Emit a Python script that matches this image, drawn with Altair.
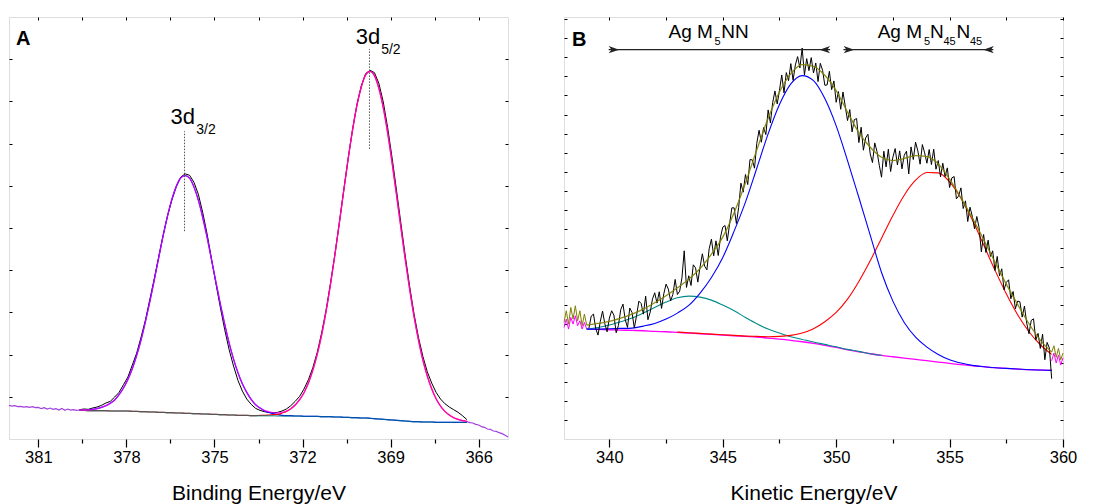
import altair as alt
import numpy as np
import pandas as pd

FONT = "Liberation Sans"

# ---------------- Panel A : Ag 3d (binding energy) ----------------
a_x = np.round(np.arange(379.6, 366.35, -0.15), 2)
a_bg = [86, 86, 85, 85, 85, 85, 85, 84, 84, 84, 84, 84, 83, 83, 82, 82, 81, 81, 80, 80,
        79, 79, 78, 78, 77, 77, 76, 76, 75, 75, 74, 74, 73, 73, 72, 72, 71, 71, 71, 70,
        70, 70, 70, 70, 70, 69, 69, 69, 69, 69, 69, 68, 68, 68, 68, 67, 67, 67, 66, 66,
        65, 65, 64, 64, 63, 63, 62, 61, 60, 59, 58, 57, 56, 55, 54, 53, 52, 52, 51, 51,
        51, 50, 50, 50, 50, 50, 50, 50, 50]
a_peak32 = [87, 87, 87, 89, 91, 95, 100, 107, 117, 133, 153, 179, 211, 251, 298, 353, 413, 478, 544, 610,
            669, 720, 759, 784, 791, 783, 757, 717, 665, 605, 538, 471, 405, 344, 288, 240, 199, 166, 140, 119,
            103, 93, 85, 80, 76, 74, 71, 70, 70, 69, 69, 68, 68, 68, 68, 67, 67, 67, 66, 66,
            65, 65, 64, 64, 63, 63, 62, 61, 60, 59, 58, 57, 56, 55, 54, 53, 52, 52, 51, 51,
            51, 50, 50, 50, 50, 50, 50, 50, 50]
a_peak52 = [86, 86, 85, 85, 85, 85, 85, 84, 84, 84, 84, 84, 83, 83, 82, 82, 81, 81, 80, 80,
            79, 79, 78, 78, 77, 77, 76, 76, 75, 75, 74, 74, 73, 73, 72, 72, 71, 71, 71, 70,
            70, 71, 71, 72, 73, 74, 78, 83, 91, 102, 118, 139, 168, 206, 254, 312, 382, 463, 551, 646,
            743, 838, 925, 1000, 1056, 1093, 1104, 1091, 1053, 995, 919, 830, 734, 635, 539, 449, 367, 297, 237, 189,
            151, 121, 99, 83, 72, 64, 59, 55, 53]
a_fit = [87, 87, 87, 89, 91, 95, 100, 107, 117, 133, 153, 179, 211, 251, 298, 353, 413, 478, 544, 610,
         669, 720, 759, 784, 791, 783, 757, 717, 665, 605, 538, 471, 405, 344, 288, 240, 199, 166, 140, 119,
         103, 93, 86, 82, 79, 78, 80, 84, 91, 102, 118, 139, 168, 206, 254, 312, 382, 463, 551, 646,
         743, 838, 925, 1000, 1056, 1093, 1104, 1091, 1053, 995, 919, 830, 734, 635, 539, 449, 367, 297, 237, 189,
         151, 121, 99, 83, 72, 64, 59, 55, 53]
a_data = [88, 90, 89, 93, 96, 101, 108, 113, 126, 140, 163, 186, 222, 258, 306, 358, 420, 482, 547, 611,
          670, 718, 758, 786, 796, 792, 771, 735, 680, 615, 540, 466, 395, 328, 268, 219, 176, 144, 120, 104,
          92, 86, 82, 80, 79, 80, 84, 90, 100, 113, 128, 150, 178, 214, 260, 318, 386, 466, 553, 647,
          744, 840, 927, 1003, 1060, 1097, 1107, 1100, 1068, 1012, 935, 845, 748, 648, 550, 458, 375, 305, 248, 202,
          168, 140, 120, 106, 96, 88, 80, 70, 58]
a_left_x = np.round(np.arange(382.0, 379.55, -0.1), 2)
a_left_y = [101, 99, 100, 97, 98, 96, 97, 95, 97, 94, 95, 91, 94, 90, 93, 89, 91, 87, 92, 86, 90, 87, 88, 86, 87]
a_right_x = np.round(np.arange(366.4, 364.95, -0.1), 2)
a_right_y = [52, 49, 48, 44, 42, 37, 35, 30, 29, 24, 23, 19, 16, 11, 6]

a_xticks = [381, 379.5, 378, 376.5, 375, 373.5, 372, 370.5, 369, 367.5, 366]
a_yticks = [126.7 * i for i in range(1, 10)]
a_peak_pos = [376.02, 369.72]
a_mark_lo = [624, 871]
a_mark_hi = [924, 1171]
a_text = ["3d", "3/2", "3d", "5/2"]
a_text_x = [376.50, 375.62, 370.19, 369.32]
a_text_y = [946, 916, 1186, 1156]
a_text_fs = [22, 14, 22, 14]

# ---------------- Panel B : Ag MNN Auger (kinetic energy) ----------------
b_x = np.round(np.arange(339.0, 359.75, 0.5), 2)
b_bg = [330, 329, 328, 327, 326, 325, 323, 322, 320, 318, 316, 314, 312, 310, 308, 306, 303, 300, 296, 292,
        287, 281, 275, 268, 262, 256, 251, 247, 243, 239, 235, 231, 227, 223, 220, 217, 214, 212, 210, 208,
        207, 206]
b_blue = [330, 330, 331, 332, 333, 339, 347, 360, 378, 401, 438, 485, 545, 624, 711, 813, 916, 1004, 1066, 1091,
          1076, 1022, 940, 836, 725, 612, 500, 414, 350, 306, 276, 254, 238, 228, 221, 217, 214, 212, 210, 208,
          207, 206]
b_teal = [330, 335, 342, 352, 363, 378, 395, 411, 424, 429, 426, 417, 402, 385, 365, 346, 330, 318, 307, 299,
          291, 284, 277, 269, 263, 256, 251]
b_red = [321, 319, 317, 315, 313, 311, 309, 308, 307, 308, 311, 318, 331, 352, 380, 420, 473, 535, 603, 671,
         732, 777, 800, 799, 772, 723, 658, 583, 507, 436, 373, 322, 283, 254]
b_fit = [342, 347, 353, 363, 375, 390, 409, 430, 454, 480, 512, 555, 606, 679, 769, 868, 963, 1042, 1097, 1124,
         1119, 1092, 1046, 981, 920, 876, 846, 836, 842, 851, 848, 826, 780, 724, 664, 599, 531, 465, 404, 346,
         297, 261]
b_data_x = np.round(np.arange(339.1, 359.55, 0.1), 2)
b_data = [333, 369, 375, 331, 312, 353, 384, 346, 322, 363,
          385, 372, 319, 341, 388, 405, 358, 335, 393, 380,
          333, 371, 414, 407, 375, 429, 358, 381, 420, 439,
          408, 442, 392, 436, 465, 450, 415, 434, 479, 434,
          444, 484, 565, 455, 490, 461, 523, 514, 471, 517,
          556, 519, 508, 571, 600, 550, 595, 551, 606, 636,
          641, 595, 645, 694, 694, 647, 695, 768, 741, 794,
          764, 839, 838, 813, 888, 927, 891, 935, 914, 988,
          949, 1010, 1045, 1006, 1047, 1093, 1039, 1100, 1076, 1127,
          1077, 1123, 1148, 1114, 1174, 1093, 1142, 1106, 1145, 1099,
          1129, 1073, 1128, 1107, 1062, 1063, 1104, 1049, 1075, 1011,
          1043, 990, 1042, 999, 956, 989, 922, 959, 962, 890,
          936, 867, 904, 915, 856, 830, 889, 863, 822, 786,
          864, 817, 870, 803, 846, 872, 823, 865, 811, 852,
          864, 796, 877, 839, 891, 865, 825, 884, 859, 828,
          869, 824, 870, 810, 836, 787, 828, 788, 814, 755,
          784, 788, 721, 730, 754, 692, 715, 653, 696, 669,
          631, 668, 635, 562, 614, 560, 597, 548, 565, 506,
          548, 490, 511, 448, 470, 478, 421, 443, 391, 414,
          412, 366, 399, 348, 316, 356, 361, 297, 317, 272,
          315, 238, 290, 273, 181]
b_edge_l_x = np.round(np.arange(338.0, 339.05, 0.1), 2)
b_edge_l_olive = [350, 385, 345, 395, 360, 400, 355, 385, 340, 375, 342]
b_edge_l_mag = [335, 360, 330, 365, 345, 370, 340, 355, 330, 350, 330]
b_edge_r_x = np.round(np.arange(359.5, 360.05, 0.1), 2)
b_edge_r_olive = [261, 280, 245, 272, 238, 258]
b_edge_r_mag = [235, 258, 228, 252, 222, 244]

b_xticks = [340, 342.5, 345, 347.5, 350, 352.5, 355, 357.5, 360]
b_yticks = [57.3 * i for i in range(1, 23)]
b_arrow_x1 = [339.97, 350.32]
b_arrow_x2 = [349.73, 356.93]
b_arrow_y = [1169, 1169]
b_head_r = [340.2, 350.56]   # heads pointing right
b_head_l = [349.5, 356.72]   # heads pointing left
b_text = ["Ag M", "5", "NN", "Ag M", "5", "N", "45", "N", "45"]
b_text_x = [342.61, 344.64, 344.93, 351.83, 353.87, 354.14, 354.73, 355.31, 355.90]
b_text_y = [1203, 1182, 1203, 1203, 1182, 1203, 1182, 1203, 1182]
b_text_fs = [19, 11, 19, 19, 11, 19, 11, 19, 11]

for arr, ref in [(a_bg, a_x), (a_peak32, a_x), (a_peak52, a_x), (a_fit, a_x), (a_data, a_x),
                 (a_left_y, a_left_x), (a_right_y, a_right_x), (b_bg, b_x), (b_blue, b_x), (b_fit, b_x),
                 (b_teal, b_x[:27]), (b_red, b_x[8:]), (b_data, b_data_x),
                 (b_edge_l_olive, b_edge_l_x), (b_edge_l_mag, b_edge_l_x),
                 (b_edge_r_olive, b_edge_r_x), (b_edge_r_mag, b_edge_r_x)]:
    assert len(arr) == len(ref), (len(arr), len(ref))

W, H = 499, 422


def df(x, y):
    return pd.DataFrame({"x": list(x), "y": list(y)})


def make_panel(xs, ys, xticks, mod, yticks, title, series, extras):
    test = f"abs(datum.value % {mod}) < 0.01"
    bottom = alt.Axis(orient="bottom", values=xticks, domain=False, grid=False,
                      labelExpr=f"{test} ? datum.label : ''",
                      tickSize={"condition": {"test": test, "value": 8}, "value": 4},
                      tickColor="black", tickWidth=1.2, labelFontSize=16.5, labelFont=FONT,
                      labelColor="black", labelPadding=2, labelOverlap=False, labelFlush=False,
                      title=title, titleFont=FONT, titleFontSize=21, titleFontWeight="normal",
                      titleColor="black", titlePadding=17)
    common = dict(labels=False, domain=False, grid=False, tickSize=3, offset=-3, tickColor="black",
                  tickWidth=1, title=None, labelPadding=0, minExtent=0, maxExtent=0)
    left = alt.Axis(orient="left", values=yticks, **common)
    top = alt.Axis(orient="top", values=xticks, **common)
    right = alt.Axis(orient="right", values=yticks, **common)

    layers = []
    mirror = alt.Chart(df([xticks[0], xticks[-1]], [yticks[0], yticks[-1]])).mark_point(opacity=0).encode(
        x=alt.X("x:Q", scale=xs, axis=top), y=alt.Y("y:Q", scale=ys, axis=right))
    layers.append(mirror)
    for (data, color, width, opacity, interp, main) in series:
        layers.append(alt.Chart(data).mark_line(color=color, strokeWidth=width, opacity=opacity,
                                                interpolate=interp).encode(
            x=alt.X("x:Q", scale=xs, axis=bottom if main else None),
            y=alt.Y("y:Q", scale=ys, axis=left if main else None)))
    layers.extend(extras)
    return alt.layer(*layers).resolve_axis(x="independent", y="independent").properties(width=W, height=H)


# ---------- Panel A ----------
xsA = alt.Scale(domain=[365, 382], reverse=True, nice=False, zero=False)
ysA = alt.Scale(domain=[0, 1267], nice=False, zero=False)
seriesA = [
    (df(a_left_x, a_left_y), "#a040e0", 1.2, 1, "linear", False),
    (df(a_right_x, a_right_y), "#a040e0", 1.2, 1, "linear", False),
    (df(a_x, a_data), "black", 1.0, 1, "linear", True),
    (df(a_x, a_peak32), "#0000ff", 1.2, 1, "monotone", False),
    (df(a_x, a_peak52), "#ff0000", 1.2, 1, "monotone", False),
    (df(a_x, a_bg), "#008080", 1.4, 0.65, "monotone", False),
    (df(a_x, a_fit), "#ff00ff", 1.3, 0.75, "monotone", False),
]
marksA = pd.DataFrame({"x": a_peak_pos, "y1": a_mark_lo, "y2": a_mark_hi})
textA = pd.DataFrame({"x": a_text_x, "y": a_text_y, "t": a_text, "fs": a_text_fs})
extrasA = [
    alt.Chart(marksA).mark_rule(color="#555555", strokeWidth=1, strokeDash=[1.5, 1.5]).encode(
        x=alt.X("x:Q", scale=xsA, axis=None), y=alt.Y("y1:Q", scale=ysA, axis=None), y2="y2:Q"),
    alt.Chart(textA).mark_text(align="left", baseline="alphabetic", font=FONT, color="black").encode(
        x=alt.X("x:Q", scale=xsA, axis=None), y=alt.Y("y:Q", scale=ysA, axis=None),
        text="t:N", size=alt.Size("fs:Q", scale=None, legend=None)),
    alt.Chart(pd.DataFrame({"x": [381.76], "y": [1182], "t": ["A"]})).mark_text(
        align="left", baseline="alphabetic", font=FONT, fontSize=20, fontWeight="bold", color="black").encode(
        x=alt.X("x:Q", scale=xsA, axis=None), y=alt.Y("y:Q", scale=ysA, axis=None), text="t:N"),
]
panelA = make_panel(xsA, ysA, a_xticks, 3, a_yticks, "Binding Energy/eV", seriesA, extrasA)

# ---------- Panel B ----------
xsB = alt.Scale(domain=[338, 360], nice=False, zero=False)
ysB = alt.Scale(domain=[0, 1267], nice=False, zero=False)
seriesB = [
    (df(b_edge_l_x, b_edge_l_mag), "#ff00ff", 1.0, 1, "linear", False),
    (df(b_edge_l_x, b_edge_l_olive), "#808000", 1.0, 1, "linear", False),
    (df(b_edge_r_x, b_edge_r_mag), "#ff00ff", 1.0, 1, "linear", False),
    (df(b_edge_r_x, b_edge_r_olive), "#808000", 1.0, 1, "linear", False),
    (df(b_x, b_bg), "#ff00ff", 1.3, 1, "monotone", False),
    (df(b_x[:27], b_teal), "#008b8b", 1.1, 1, "monotone", False),
    (df(b_x[8:], b_red), "#ff0000", 1.1, 1, "monotone", False),
    (df(b_x, b_blue), "#0000ff", 1.1, 1, "monotone", False),
    (df(b_data_x, b_data), "black", 1.0, 1, "linear", True),
    (df(b_x, b_fit), "#808000", 1.3, 0.9, "monotone", False),
]
arrB = pd.DataFrame({"x": b_arrow_x1, "x2": b_arrow_x2, "y": b_arrow_y})
headR = pd.DataFrame({"x": b_head_r, "y": b_arrow_y})
headL = pd.DataFrame({"x": b_head_l, "y": b_arrow_y})
textB = pd.DataFrame({"x": b_text_x, "y": b_text_y, "t": b_text, "fs": b_text_fs})
shape_r = "M1,0 L-1,-0.7 L-0.45,0 L-1,0.7 Z"
shape_l = "M-1,0 L1,-0.7 L0.45,0 L1,0.7 Z"
extrasB = [
    alt.Chart(arrB).mark_rule(color="#222222", strokeWidth=1.2).encode(
        x=alt.X("x:Q", scale=xsB, axis=None), x2="x2:Q", y=alt.Y("y:Q", scale=ysB, axis=None)),
    alt.Chart(headR).mark_point(shape=shape_r, filled=True, color="#222222", size=110, opacity=1).encode(
        x=alt.X("x:Q", scale=xsB, axis=None), y=alt.Y("y:Q", scale=ysB, axis=None)),
    alt.Chart(headL).mark_point(shape=shape_l, filled=True, color="#222222", size=110, opacity=1).encode(
        x=alt.X("x:Q", scale=xsB, axis=None), y=alt.Y("y:Q", scale=ysB, axis=None)),
    alt.Chart(textB).mark_text(align="left", baseline="alphabetic", font=FONT, color="black").encode(
        x=alt.X("x:Q", scale=xsB, axis=None), y=alt.Y("y:Q", scale=ysB, axis=None),
        text="t:N", size=alt.Size("fs:Q", scale=None, legend=None)),
    alt.Chart(pd.DataFrame({"x": [338.35], "y": [1179], "t": ["B"]})).mark_text(
        align="left", baseline="alphabetic", font=FONT, fontSize=20, fontWeight="bold", color="black").encode(
        x=alt.X("x:Q", scale=xsB, axis=None), y=alt.Y("y:Q", scale=ysB, axis=None), text="t:N"),
]
panelB = make_panel(xsB, ysB, b_xticks, 5, b_yticks, "Kinetic Energy/eV", seriesB, extrasB)

chart = alt.hconcat(panelA, panelB, spacing=50).properties(
    padding={"left": -2, "top": 7, "right": 0, "bottom": 0},
    background="white",
).configure_view(stroke="black", strokeWidth=1.3).configure(font=FONT)

chart.save("out.html", embed_options={"renderer": "svg", "actions": False})
